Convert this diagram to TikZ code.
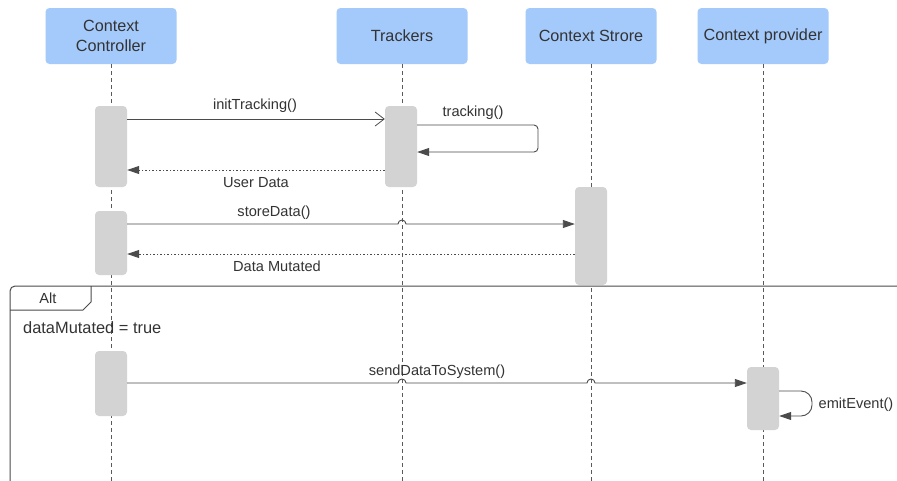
\documentclass[tikz,border=0pt]{standalone}
\usepackage{fontspec}
\setmainfont{Liberation Sans}
\usetikzlibrary{arrows.meta}
\definecolor{headfill}{RGB}{164,201,251}
\definecolor{actfill}{RGB}{211,211,211}
\definecolor{ink}{RGB}{51,51,51}
\definecolor{wire}{RGB}{75,75,75}
\definecolor{lifegray}{RGB}{90,90,90}
\tikzset{
  head/.style={fill=headfill, rounded corners=4pt, minimum width=131pt, minimum height=56pt,
    align=center, text=ink, font=\fontsize{16.2}{20}\selectfont, inner sep=0pt},
  act/.style={fill=actfill, rounded corners=4pt, minimum width=32pt, inner sep=0pt},
  life/.style={draw=lifegray, dash pattern=on 4pt off 3pt, line width=0.7pt},
  msg/.style={draw=wire, line width=0.9pt, -{Triangle[length=12pt,width=8pt]}},
  ret/.style={draw=wire, line width=0.9pt, dash pattern=on 1.5pt off 2pt, -{Triangle[length=12pt,width=8pt]}},
  call/.style={draw=wire, line width=0.9pt, -{Straight Barb[length=9pt,width=14pt,line width=0.8pt]}},
  lbl/.style={text=ink, font=\fontsize{14.6}{17}\selectfont, inner sep=0pt},
  frame/.style={draw=wire, line width=1pt},
}
\begin{document}
\begin{tikzpicture}[x=1pt,y=-1pt]
\useasboundingbox (0,0) rectangle (897,480);
\fill[white] (0,0) rectangle (897,480);

% participants
\node[head] (hc) at (111,36) {Context\\Controller};
\node[head] (ht) at (402,36) {Trackers};
\node[head] (hs) at (591,36) {Context Strore};
\node[head] (hp) at (763,36) {Context provider};

% lifelines
\coordinate (ec) at (111,481);
\coordinate (et) at (402,481);
\coordinate (es) at (591,481);
\coordinate (ep) at (763,481);
\draw[life] (hc.south) -- (ec);
\draw[life] (ht.south) -- (et);
\draw[life] (hs.south) -- (es);
\draw[life] (hp.south) -- (ep);

% activation bars
\node[act, minimum height=81pt] (c1) at (111,146.5) {};
\node[act, minimum height=81pt] (t1) at (401,146.5) {};
\node[act, minimum height=64pt] (c2) at (111,243) {};
\node[act, minimum height=98pt] (s1) at (591,236) {};
\node[act, minimum height=65pt] (c3) at (111,383.5) {};
\node[act, minimum height=63pt] (p1) at (763,398.5) {};

% initTracking
\draw[call] (c1.east |- 0,119) -- (t1.west |- 0,119);
\node[lbl] (l1) at (255,106) {initTracking()};

% tracking self call
\draw[msg, rounded corners=4pt] (t1.east |- 0,125) -- (538,125) -- (538,152) -- (t1.east |- 0,152);
\node[lbl] (l2) at (473,113) {tracking()};

% user data return
\draw[ret] (t1.west |- 0,170) -- (c1.east |- 0,170);
\node[lbl] (l3) at (256,182.5) {User Data};

% storeData with a hop over the trackers lifeline
\draw[msg] (c2.east |- 0,224) -- (398,224) arc[start angle=180, end angle=0, radius=4pt] -- (s1.west |- 0,224);
\node[lbl] (l4) at (274,213) {storeData()};

% data mutated return
\draw[ret] (s1.west |- 0,254) -- (c2.east |- 0,254);
\node[lbl] (l5) at (277,266.5) {Data Mutated};

% alt frame
\draw[frame, rounded corners=5pt] (10,482) -- (10,286) -- (899,286);
\draw[frame] (10,310) -- (83,310) -- (91,302) -- (91,286);
\node[lbl] (alt) at (48,298) {Alt};
\node[lbl, anchor=west, font=\fontsize{16.4}{19}\selectfont] (cond) at (23,328) {dataMutated = true};

% sendDataToSystem with hops
\draw[msg] (c3.east |- 0,383) -- (398,383) arc[start angle=180, end angle=0, radius=4pt]
  -- (587,383) arc[start angle=180, end angle=0, radius=4pt] -- (p1.west |- 0,383);
\node[lbl] (l6) at (437,372) {sendDataToSystem()};

% emitEvent self call
\draw[msg, rounded corners=11pt] (p1.east |- 0,391) -- (812,391) -- (812,416) -- (p1.east |- 0,416);
\node[lbl] (l7) at (856,404.5) {emitEvent()};
\end{tikzpicture}
\end{document}
